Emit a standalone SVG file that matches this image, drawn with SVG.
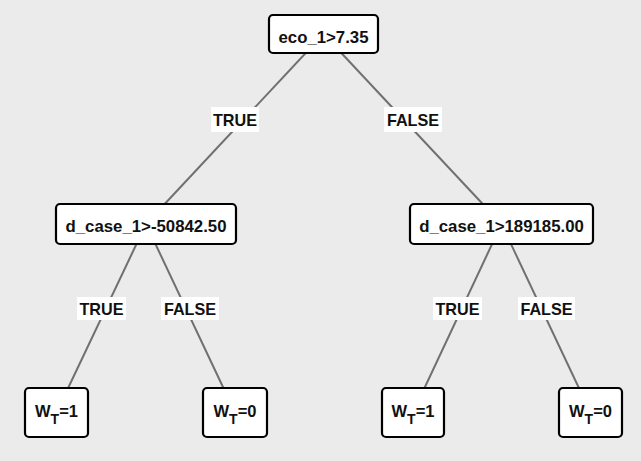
<svg xmlns="http://www.w3.org/2000/svg" width="641" height="461" viewBox="0 0 641 461">
<style>
.bg{fill:#ebebeb}
.node rect{fill:#ffffff;stroke:#000000;stroke-width:2.2}
.node text{font-family:"Liberation Sans",Arial,sans-serif;font-weight:bold;font-size:16.8px;fill:#111111;text-anchor:middle}
.edges line{stroke:#707070;stroke-width:2}
.lbl rect{fill:#ffffff}
.lbl text{font-family:"Liberation Sans",Arial,sans-serif;font-weight:bold;font-size:16.2px;fill:#111111;text-anchor:middle}
.node text.leaf{font-size:16.5px}
.sub{font-size:14px}
</style>
<rect class="bg" x="0" y="0" width="641" height="461"/>
<g id="connectors" class="edges">
<line x1="323.5" y1="34" x2="146" y2="224"/>
<line x1="323.5" y1="34" x2="501.5" y2="224"/>
<line x1="146" y1="224" x2="56.5" y2="412.5"/>
<line x1="146" y1="224" x2="235" y2="412.5"/>
<line x1="501.5" y1="224" x2="413" y2="412.5"/>
<line x1="501.5" y1="224" x2="590.5" y2="412.5"/>
<g class="lbl">
<rect x="211" y="107" width="48" height="25"/><text x="235" y="126">TRUE</text>
<rect x="384" y="107" width="58" height="25"/><text x="413" y="126">FALSE</text>
<rect x="77" y="297" width="49" height="23"/><text x="101.5" y="315">TRUE</text>
<rect x="161" y="297" width="58" height="23"/><text x="190" y="315">FALSE</text>
<rect x="433" y="297" width="49" height="23"/><text x="457.5" y="315">TRUE</text>
<rect x="518" y="297" width="57" height="23"/><text x="546.5" y="315">FALSE</text>
</g>
</g>
<g id="root" class="node"><rect x="269" y="15" width="109" height="38" rx="4"/><text x="323.5" y="42.5">eco_1&gt;7.35</text></g>
<g id="left" class="node"><rect x="56" y="204" width="180" height="40" rx="4"/><text x="146" y="231.5">d_case_1&gt;-50842.50</text></g>
<g id="right" class="node"><rect x="410" y="204" width="183" height="40" rx="4"/><text x="501.5" y="231.5">d_case_1&gt;189185.00</text></g>
<g id="leaf1" class="node"><rect x="25" y="388" width="63" height="49" rx="4"/><text class="leaf" x="56.5" y="416.5">W<tspan class="sub" dy="7">T</tspan><tspan dy="-7">=1</tspan></text></g>
<g id="leaf2" class="node"><rect x="203" y="388" width="64" height="49" rx="4"/><text class="leaf" x="235" y="416.5">W<tspan class="sub" dy="7">T</tspan><tspan dy="-7">=0</tspan></text></g>
<g id="leaf3" class="node"><rect x="382" y="388" width="62" height="49" rx="4"/><text class="leaf" x="413" y="416.5">W<tspan class="sub" dy="7">T</tspan><tspan dy="-7">=1</tspan></text></g>
<g id="leaf4" class="node"><rect x="559" y="388" width="63" height="49" rx="4"/><text class="leaf" x="590.5" y="416.5">W<tspan class="sub" dy="7">T</tspan><tspan dy="-7">=0</tspan></text></g>
</svg>
